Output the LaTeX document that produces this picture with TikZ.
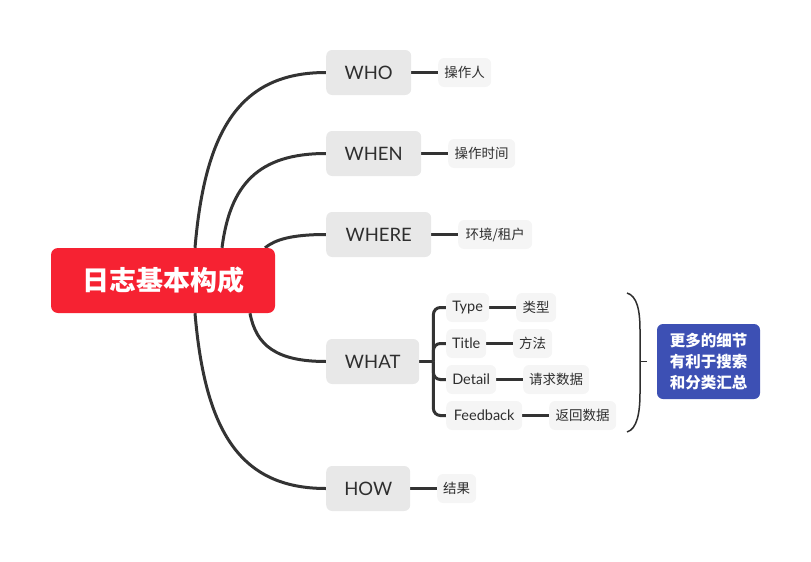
\documentclass[tikz,border=0pt]{standalone}
\usepackage{fontspec}
\setmainfont{Lato}
\newfontfamily\cjk{Noto Sans CJK SC}
\usetikzlibrary{calc}
\definecolor{rootred}{HTML}{F62232}
\definecolor{topicfill}{HTML}{E8E8E8}
\definecolor{subfill}{HTML}{F5F5F5}
\definecolor{ink}{HTML}{2E2E2E}
\definecolor{lineclr}{HTML}{333333}
\definecolor{bluebox}{HTML}{3D50B4}
\pgfdeclarelayer{bg}\pgfsetlayers{bg,main}
\begin{document}
\begin{tikzpicture}[x=1pt,y=-1pt,
 rootbox/.style={fill=rootred, rounded corners=7pt, minimum width=224pt, minimum height=65pt, text=white, font=\cjk\bfseries\fontsize{27}{30}\selectfont, inner sep=0pt},
 topic/.style={fill=topicfill, rounded corners=6pt, minimum height=45pt, text=ink, font=\fontsize{18.5}{20}\selectfont, inner sep=0pt, anchor=west},
 sub/.style={fill=subfill, rounded corners=6pt, minimum height=29pt, text=ink, font=\fontsize{14.5}{16}\selectfont, inner sep=0pt, anchor=west},
 subc/.style={sub, font=\cjk\fontsize{13.5}{15}\selectfont},
 note/.style={fill=bluebox, rounded corners=6pt, minimum width=103pt, minimum height=75pt, text=white, align=center, inner sep=0pt, font=\cjk\bfseries\fontsize{15.5}{21}\selectfont},
 branch/.style={draw=lineclr, line width=3pt},
 bracketline/.style={draw=ink, line width=1.5pt}]
\useasboundingbox (0,0) rectangle (811,562);
\node[rootbox] (root) at (163,280.5) {日志基本构成};
\node[topic, minimum width=85pt] (who) at (326,72.5) {WHO};
\node[topic, minimum width=95pt] (when) at (326,153.5) {WHEN};
\node[topic, minimum width=105pt] (where) at (326,234.5) {WHERE};
\node[topic, minimum width=93pt] (what) at (326,361.5) {WHAT};
\node[topic, minimum width=84pt] (how) at (326,488.5) {HOW};
\node[subc, minimum width=53pt] (whoA) at (438,72.5) {操作人};
\node[subc, minimum width=67pt] (whenA) at (448,153.5) {操作时间};
\node[subc, minimum width=74pt] (whereA) at (458,234.5) {环境/租户};
\node[sub, minimum width=43pt] (type) at (446,307.5) {Type};
\node[subc, minimum width=40pt] (typeA) at (516,307.5) {类型};
\node[sub, minimum width=40pt] (title) at (446,343.5) {Title};
\node[subc, minimum width=39pt] (titleA) at (513,343.5) {方法};
\node[sub, minimum width=50pt] (detail) at (446,379.5) {Detail};
\node[subc, minimum width=66pt] (detailA) at (523,379.5) {请求数据};
\node[sub, minimum width=76pt] (feedback) at (446,415.5) {Feedback};
\node[subc, minimum width=67pt] (feedbackA) at (549,415.5) {返回数据};
\node[subc, minimum width=39pt] (howA) at (437,488.5) {结果};
\node[note] (summary) at (708.5,361.5) {更多的细节\\有利于搜索\\和分类汇总};
\begin{pgfonlayer}{bg}
\draw[branch] ([xshift=32pt]root.north) .. controls +(10,-118) and +(-86,0) .. (who.west);
\draw[branch] ([xshift=59pt]root.north) .. controls +(8,-63) and +(-68,0) .. (when.west);
\draw[branch] ([xshift=102pt]root.north) .. controls +(10,-8) and +(-35,0) .. (where.west);
\draw[branch] ([xshift=87pt]root.south) .. controls +(6,32) and +(-50,0) .. (what.west);
\draw[branch] ([xshift=32pt]root.south) .. controls +(10,118) and +(-86,0) .. (how.west);
\draw[branch] (who.east) -- (whoA.west);
\draw[branch] (when.east) -- (whenA.west);
\draw[branch] (where.east) -- (whereA.west);
\draw[branch] (how.east) -- (howA.west);
\coordinate (wj) at ([xshift=14pt]what.east);
\draw[branch] (what.east) -- (wj);
\foreach \n in {type,title,detail,feedback}
  \draw[branch, rounded corners=7pt] (wj) |- (\n.west);
\draw[branch] (type.east) -- (typeA.west);
\draw[branch] (title.east) -- (titleA.west);
\draw[branch] (detail.east) -- (detailA.west);
\draw[branch] (feedback.east) -- (feedbackA.west);
\end{pgfonlayer}
\coordinate (bt) at (627,293);
\coordinate (bb) at (627,432);
\coordinate (bm) at (640,361.5);
\draw[bracketline] (bt) .. controls (637,296) and (640,310) .. (640,330) -- (640,393) .. controls (640,413) and (637,429) .. (bb);
\draw[bracketline] (bm) -- ([xshift=7pt]bm);
\end{tikzpicture}
\end{document}
